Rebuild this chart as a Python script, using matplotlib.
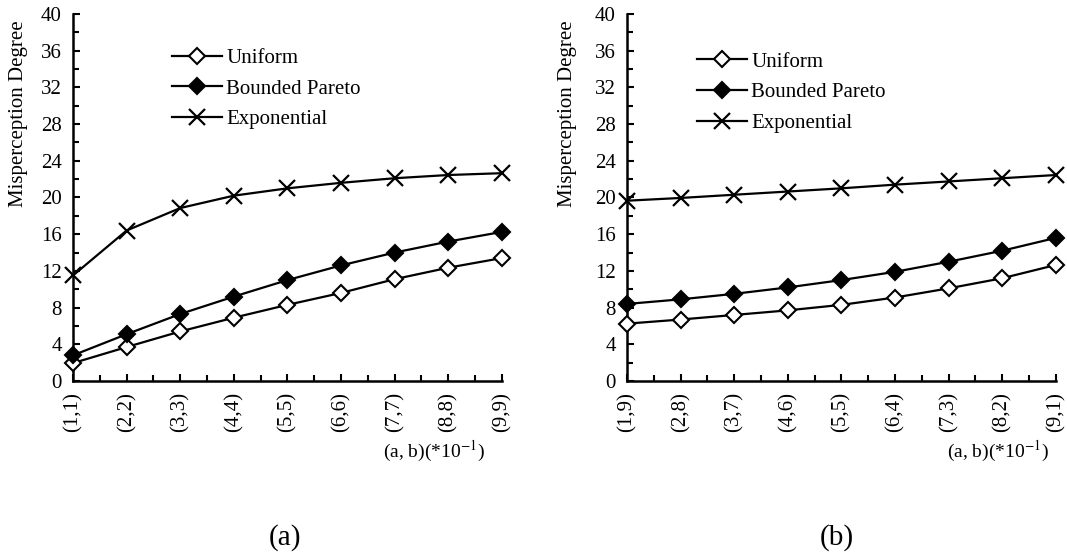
import matplotlib
matplotlib.use('Agg')
import matplotlib.pyplot as plt
from matplotlib.ticker import MultipleLocator

plt.rcParams['font.family'] = ['Liberation Serif', 'DejaVu Serif']
plt.rcParams['mathtext.fontset'] = 'stix'

labels_a = ['(1,1)', '(2,2)', '(3,3)', '(4,4)', '(5,5)', '(6,6)', '(7,7)', '(8,8)', '(9,9)']
labels_b = ['(1,9)', '(2,8)', '(3,7)', '(4,6)', '(5,5)', '(6,4)', '(7,3)', '(8,2)', '(9,1)']

uniform_a = [1.95, 3.7, 5.4, 6.9, 8.3, 9.6, 11.1, 12.35, 13.4]
pareto_a = [2.8, 5.1, 7.3, 9.2, 11.0, 12.6, 14.0, 15.2, 16.25]
expo_a = [11.5, 16.4, 18.85, 20.2, 21.0, 21.6, 22.1, 22.45, 22.65]

uniform_b = [6.25, 6.7, 7.2, 7.7, 8.3, 9.1, 10.1, 11.2, 12.65]
pareto_b = [8.4, 8.9, 9.5, 10.2, 11.0, 11.9, 13.0, 14.2, 15.6]
expo_b = [19.65, 19.95, 20.3, 20.65, 21.0, 21.4, 21.75, 22.1, 22.45]

fig = plt.figure(figsize=(10.67, 5.55), dpi=100)
ax1 = fig.add_axes([0.0684, 0.3135, 0.402, 0.6613])
ax2 = fig.add_axes([0.5876, 0.3135, 0.402, 0.6613])


def draw(ax, labels, uni, par, exp, legend_pos):
    x = list(range(len(labels)))
    ax.plot(x, uni, color='black', lw=1.6, marker='D', ms=8, mfc='white',
            mec='black', mew=1.5, label='Uniform', clip_on=False, zorder=3)
    ax.plot(x, par, color='black', lw=1.6, marker='D', ms=8, mfc='black',
            mec='black', mew=1.5, label='Bounded Pareto', clip_on=False, zorder=3)
    ax.plot(x, exp, color='black', lw=1.6, marker='x', ms=12, mew=1.6,
            label='Exponential', clip_on=False, zorder=3)
    ax.set_xlim(0, len(labels) - 1)
    ax.set_ylim(0, 40)
    ax.yaxis.set_major_locator(MultipleLocator(4))
    ax.yaxis.set_minor_locator(MultipleLocator(2))
    ax.set_xticks(x)
    ax.set_xticklabels(labels, rotation=90, fontsize=15)
    ax.xaxis.set_minor_locator(MultipleLocator(0.5))
    ax.tick_params(axis='y', labelsize=15)
    ax.tick_params(which='both', direction='in', width=1.5, color='black', pad=8)
    ax.tick_params(which='major', length=5)
    ax.tick_params(which='minor', length=4)
    for side in ['top', 'right']:
        ax.spines[side].set_visible(False)
    for side in ['left', 'bottom']:
        ax.spines[side].set_linewidth(1.8)
    ax.legend(loc='upper left', bbox_to_anchor=legend_pos, frameon=False,
              fontsize=15, handlelength=2.4, handletextpad=0.2,
              labelspacing=0.53, borderpad=0, borderaxespad=0)


draw(ax1, labels_a, uniform_a, pareto_a, expo_a, (0.231, 0.906))
draw(ax2, labels_b, uniform_b, pareto_b, expo_b, (0.163, 0.896))

fig.text(0.017, 0.795, 'Misperception Degree', rotation=90, ha='center', va='center', fontsize=15)
fig.text(0.532, 0.795, 'Misperception Degree', rotation=90, ha='center', va='center', fontsize=15)
fig.text(0.407, 0.186, '(a, b)(*10$^{-1}$)', ha='center', va='center', fontsize=14)
fig.text(0.935, 0.186, '(a, b)(*10$^{-1}$)', ha='center', va='center', fontsize=14)
fig.text(0.267, 0.031, '(a)', ha='center', va='center', fontsize=21)
fig.text(0.784, 0.031, '(b)', ha='center', va='center', fontsize=21)

fig.savefig('out.png', dpi=100)
